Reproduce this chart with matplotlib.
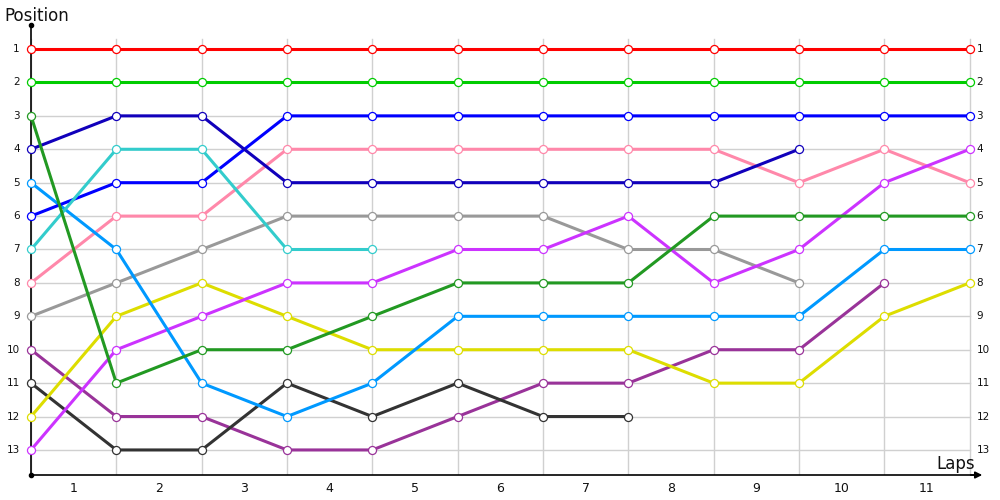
import matplotlib
matplotlib.use("Agg")
import matplotlib.pyplot as plt
import numpy as np

laps = list(range(0, 12))
lap_labels = [str(i) for i in range(1, 12)]
positions = list(range(1, 14))

red = [1, 1, 1, 1, 1, 1, 1, 1, 1, 1, 1, 1]
green = [2, 2, 2, 2, 2, 2, 2, 2, 2, 2, 2, 2]
blue = [6, 5, 5, 3, 3, 3, 3, 3, 3, 3, 3, 3]
darkblue = [4, 3, 3, 5, 5, 5, 5, 5, 5, 4]
pink = [8, 6, 6, 4, 4, 4, 4, 4, 4, 5, 4, 5]
cyan = [7, 4, 4, 7, 7]
gray = [9, 8, 7, 6, 6, 6, 6, 7, 7, 8]
lightblue = [5, 7, 11, 12, 11, 9, 9, 9, 9, 9, 7, 7]
darkgreen = [3, 11, 10, 10, 9, 8, 8, 8, 6, 6, 6, 6]
yellow = [12, 9, 8, 9, 10, 10, 10, 10, 11, 11, 9, 8]
magenta = [13, 10, 9, 8, 8, 7, 7, 6, 8, 7, 5, 4]
purple = [10, 12, 12, 13, 13, 12, 11, 11, 10, 10, 8]
black = [11, 13, 13, 11, 12, 11, 12, 12]

series = [
    (red, "#ff0000"),
    (green, "#00cc00"),
    (gray, "#999999"),
    (pink, "#ff88aa"),
    (purple, "#993399"),
    (black, "#333333"),
    (yellow, "#dddd00"),
    (magenta, "#cc33ff"),
    (lightblue, "#0099ff"),
    (blue, "#0000ff"),
    (darkblue, "#1100bb"),
    (cyan, "#33cccc"),
    (darkgreen, "#229922"),
]

fig = plt.figure(figsize=(10, 5), dpi=100)
x_max = 11.18
ax = fig.add_axes([0.031, 0.05, 0.954, 0.90])
ax.set_xlim(0, x_max)
ax.set_ylim(13.75, 0.28)

# grid
for x in laps:
    ax.plot([x, x], [0.7, 13.75], color="#d0d0d0", lw=1, zorder=1)
for y in positions:
    ax.plot([0, laps[-1]], [y, y], color="#d0d0d0", lw=1, zorder=1)

for vals, col in series:
    xs = laps[:len(vals)]
    ax.plot(xs, vals, color=col, lw=2.2, zorder=3, solid_capstyle="butt",
            marker="o", markersize=5.8, markerfacecolor="white",
            markeredgecolor=col, markeredgewidth=0.9, clip_on=False)

for s in ax.spines.values():
    s.set_visible(False)
ax.set_xticks([])
ax.set_yticks([])

# axes lines
ax.plot([0, 0], [13.75, 0.28], color="black", lw=1.2, zorder=2, clip_on=False)
ax.plot([0, x_max - 0.1], [13.75, 13.75], color="black", lw=1.2, zorder=2, clip_on=False)
ax.plot([0], [0.28], marker="o", markersize=3, color="black", clip_on=False)
ax.plot([0], [13.75], marker="o", markersize=3, color="black", clip_on=False)
ax.annotate("", xy=(x_max, 13.75), xytext=(x_max - 0.2, 13.75),
            arrowprops=dict(arrowstyle="-|>", color="black", lw=1.2,
                            mutation_scale=10),
            annotation_clip=False)

# y labels both sides
for p in positions:
    ax.text(-0.13, p, str(p), ha="right", va="center", fontsize=7.5,
            color="#111111", clip_on=False)
    ax.text(laps[-1] + 0.08, p, str(p), ha="left", va="center", fontsize=7.5,
            color="#111111", clip_on=False)

# x labels centered between gridlines
for i, lab in enumerate(lap_labels):
    ax.text(i + 0.5, 14.15, lab, ha="center", va="center", fontsize=9,
            color="#111111", clip_on=False)

fig.text(0.004, 0.968, "Position", ha="left", va="center", fontsize=12,
         color="#111111")
fig.text(0.975, 0.072, "Laps", ha="right", va="center", fontsize=12,
         color="#111111")

fig.savefig("out.png", dpi=100)
